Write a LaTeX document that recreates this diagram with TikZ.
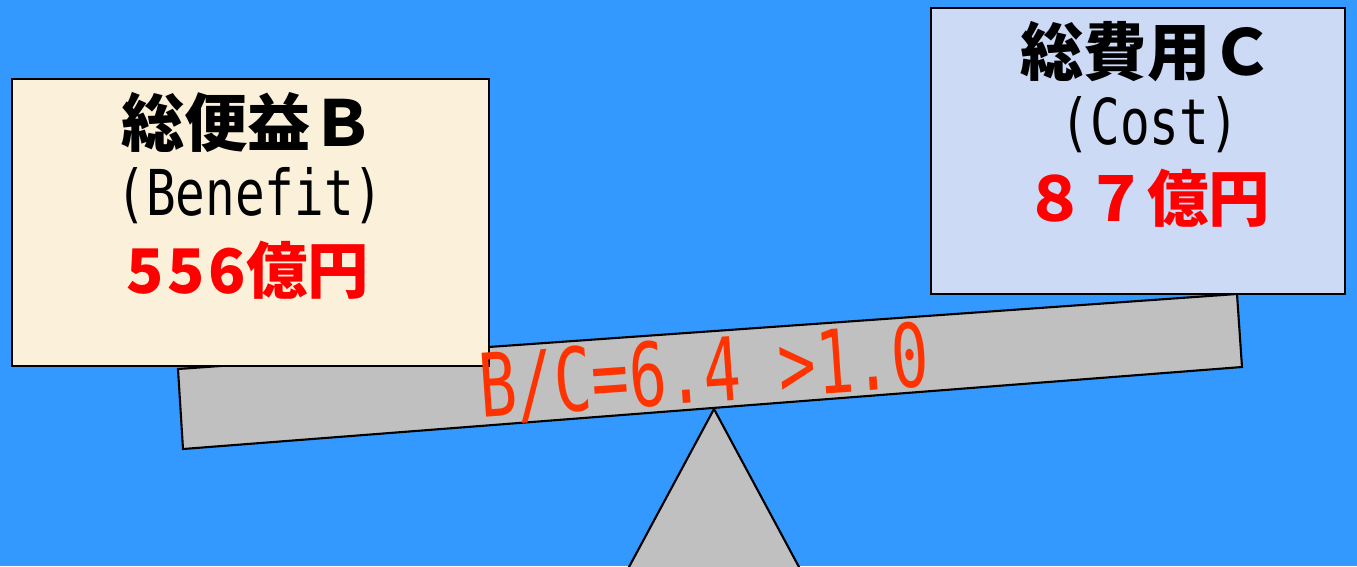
\documentclass[tikz,border=0pt]{standalone}
\usepackage{fontspec}
\usepackage{graphicx}
\newfontfamily\jpfont{Noto Sans CJK JP}
\newfontfamily\gothmono{DejaVu Sans Mono}
\definecolor{sky}{HTML}{3399FF}
\definecolor{beamgray}{HTML}{C0C0C0}
\definecolor{cream}{HTML}{FBF1DA}
\definecolor{lavender}{HTML}{CCDAF6}
\definecolor{ratiored}{HTML}{FF3300}
\tikzset{
  panel/.style={draw=black, line width=1.2pt, inner sep=0pt},
  headline/.style={font=\jpfont\bfseries\fontsize{36}{42}\selectfont},
  subline/.style={font=\gothmono\fontsize{36}{42}\selectfont},
  amount/.style={font=\jpfont\bfseries\fontsize{35}{40}\selectfont, text=red},
}
\begin{document}
\begin{tikzpicture}[x=0.02cm,y=-0.02cm]
% Achtergrond
\fill[sky] (0,0) rectangle (1357,566);
\useasboundingbox (0,0) rectangle (1357,566);
\clip (0,0) rectangle (1357,566);

% Steunpunt
\filldraw[fill=beamgray, draw=black, line width=1.2pt]
    (622,580) -- (714,409) -- (806,580);

% Balk
\filldraw[fill=beamgray, draw=black, line width=1.2pt]
    (178,369) -- (1237,294) -- (1242,367) -- (183,449) -- cycle;

% Linker doos (baten)
\node[panel, fill=cream, minimum width=9.54cm, minimum height=5.74cm]
    (benefit) at (250.5,222.5) {};
\node[headline] (benefitTitle) at (248,122) {総便益Ｂ};
\node[subline] (benefitEn) at (250,196) {\scalebox{0.78}[1]{(Benefit)}};
\node[amount] (benefitVal) at (248,270) {5\kern2pt5\kern2pt6億円};

% Rechter doos (kosten)
\node[panel, fill=lavender, minimum width=8.28cm, minimum height=5.72cm]
    (cost) at (1138,151) {};
\node[headline] (costTitle) at (1147,52) {総費用Ｃ};
\node[subline] (costEn) at (1150,125) {\scalebox{0.78}[1]{(Cost)}};
\node[amount] (costVal) at (1147,198) {８７億円};

% Verhouding op de balk
\node[font=\gothmono\fontsize{50}{56}\selectfont, text=ratiored, rotate=4, anchor=base]
    (ratio) at (706,402) {\scalebox{0.71}[1]{B/C=6.4 >1.0}};
\end{tikzpicture}
\end{document}
